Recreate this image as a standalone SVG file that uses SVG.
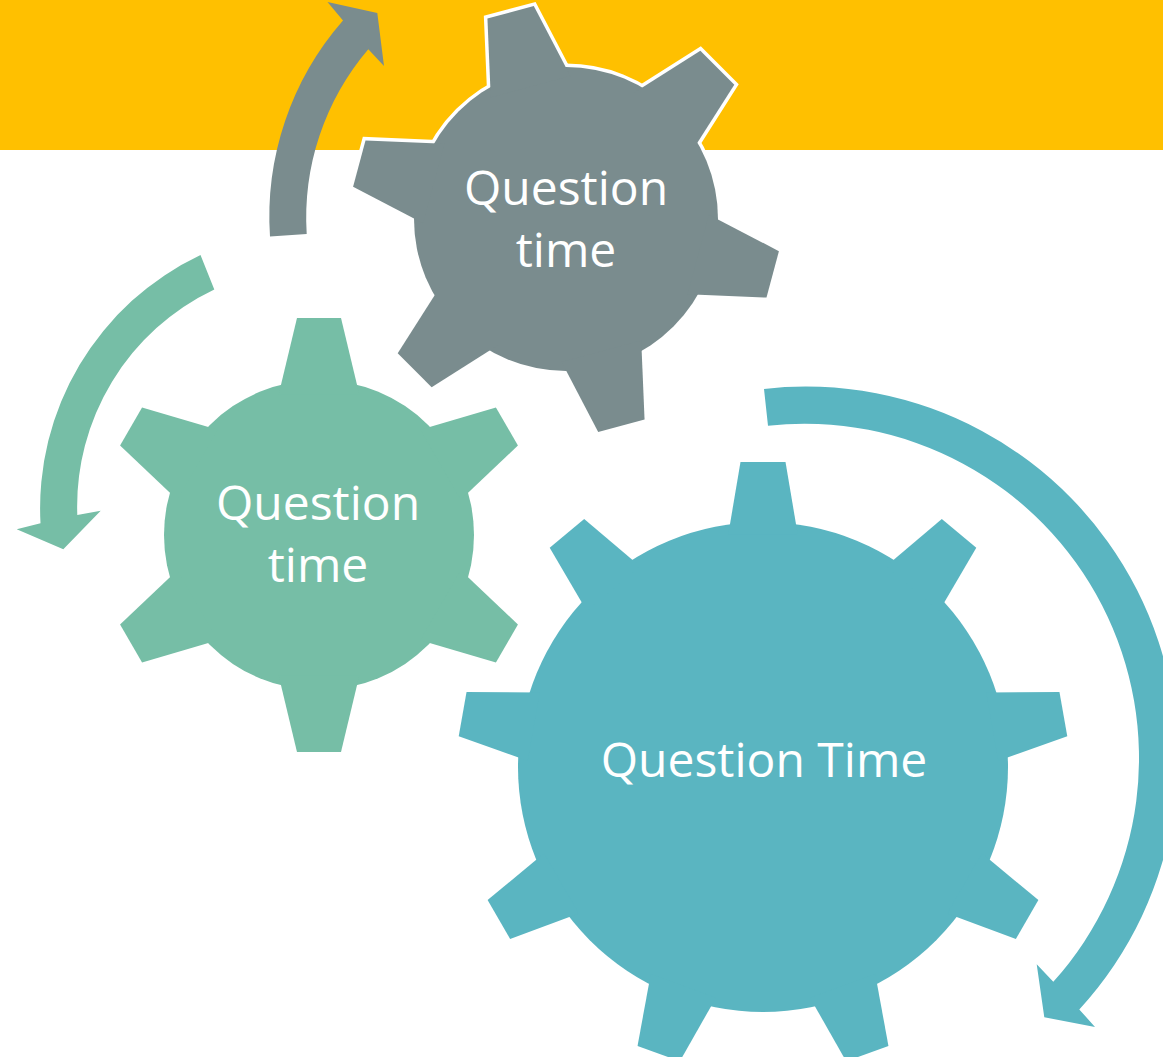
<svg xmlns="http://www.w3.org/2000/svg" xmlns:xlink="http://www.w3.org/1999/xlink" width="1163" height="1057" viewBox="0 0 1163 1057">
  <style>
    .gray { fill: #7A8C8E; }
    .green { fill: #76BEA6; }
    .blue { fill: #5AB5C1; }
    .outline { fill: #FFFFFF; stroke: #FFFFFF; stroke-width: 7; stroke-linejoin: miter; }
    .label { font-family: "Open Sans", "Noto Sans", "DejaVu Sans", sans-serif; font-size: 48px; fill: #FFFFFF; text-anchor: middle; }
  </style>
  <defs>
    <polygon id="tooth-gray" points="524.8,82.1 542,5 590,5 607.2,82.1"/>
    <polygon id="tooth-green" points="278.6,394.7 297,318 341,318 359.4,394.7"/>
    <polygon id="tooth-blue" points="728.3,534.2 740.5,462 785.5,462 797.7,534.2"/>
  </defs>

  <rect id="band" x="0" y="0" width="1163" height="150" fill="#FFC000"/>

  <g id="connectors">
    <path id="arrow-gray" class="gray" d="M270,236.4 A297.5,297.5 0 0 1 343,20.5 L327.5,2 L377.3,12.9 L384,66 L368.3,49.2 A260,260 0 0 0 306.7,234 Z"/>
    <path id="arrow-green" class="green" d="M200.5,255 A280,280 0 0 0 40.5,523.3 L16.7,529.3 L63.3,549.3 L100.7,510.7 L77.3,515 A240,240 0 0 1 214.3,289.5 Z"/>
    <path id="arrow-blue" class="blue" d="M764,388.9 A371.5,371.5 0 0 1 1079.3,1009.4 L1095,1027 L1044.3,1017.3 L1036.7,964.2 L1053.3,981.8 A334.5,334.5 0 0 0 768,425.7 Z"/>
  </g>

  <g id="gear-gray">
    <g class="outline">
      <circle cx="566" cy="219" r="152"/>
      <use xlink:href="#tooth-gray" transform="rotate(-15 566 219)"/>
      <use xlink:href="#tooth-gray" transform="rotate(45 566 219)"/>
      <use xlink:href="#tooth-gray" transform="rotate(105 566 219)"/>
      <use xlink:href="#tooth-gray" transform="rotate(165 566 219)"/>
      <use xlink:href="#tooth-gray" transform="rotate(225 566 219)"/>
      <use xlink:href="#tooth-gray" transform="rotate(285 566 219)"/>
    </g>
    <g class="gray">
      <circle cx="566" cy="219" r="152"/>
      <use xlink:href="#tooth-gray" transform="rotate(-15 566 219)"/>
      <use xlink:href="#tooth-gray" transform="rotate(45 566 219)"/>
      <use xlink:href="#tooth-gray" transform="rotate(105 566 219)"/>
      <use xlink:href="#tooth-gray" transform="rotate(165 566 219)"/>
      <use xlink:href="#tooth-gray" transform="rotate(225 566 219)"/>
      <use xlink:href="#tooth-gray" transform="rotate(285 566 219)"/>
    </g>
    <text class="label" x="566" y="205">Question</text>
    <text class="label" x="566" y="267">time</text>
  </g>

  <g id="gear-green">
    <g class="green">
      <circle cx="319" cy="535" r="155"/>
      <use xlink:href="#tooth-green" transform="rotate(0 319 535)"/>
      <use xlink:href="#tooth-green" transform="rotate(60 319 535)"/>
      <use xlink:href="#tooth-green" transform="rotate(120 319 535)"/>
      <use xlink:href="#tooth-green" transform="rotate(180 319 535)"/>
      <use xlink:href="#tooth-green" transform="rotate(240 319 535)"/>
      <use xlink:href="#tooth-green" transform="rotate(300 319 535)"/>
    </g>
    <text class="label" x="318" y="520">Question</text>
    <text class="label" x="318" y="582">time</text>
  </g>

  <g id="gear-blue">
    <g class="blue">
      <circle cx="763" cy="767" r="245"/>
      <use xlink:href="#tooth-blue" transform="rotate(0 763 767)"/>
      <use xlink:href="#tooth-blue" transform="rotate(40 763 767)"/>
      <use xlink:href="#tooth-blue" transform="rotate(80 763 767)"/>
      <use xlink:href="#tooth-blue" transform="rotate(120 763 767)"/>
      <use xlink:href="#tooth-blue" transform="rotate(160 763 767)"/>
      <use xlink:href="#tooth-blue" transform="rotate(200 763 767)"/>
      <use xlink:href="#tooth-blue" transform="rotate(240 763 767)"/>
      <use xlink:href="#tooth-blue" transform="rotate(280 763 767)"/>
      <use xlink:href="#tooth-blue" transform="rotate(320 763 767)"/>
    </g>
    <text class="label" x="764" y="777">Question Time</text>
  </g>
</svg>
